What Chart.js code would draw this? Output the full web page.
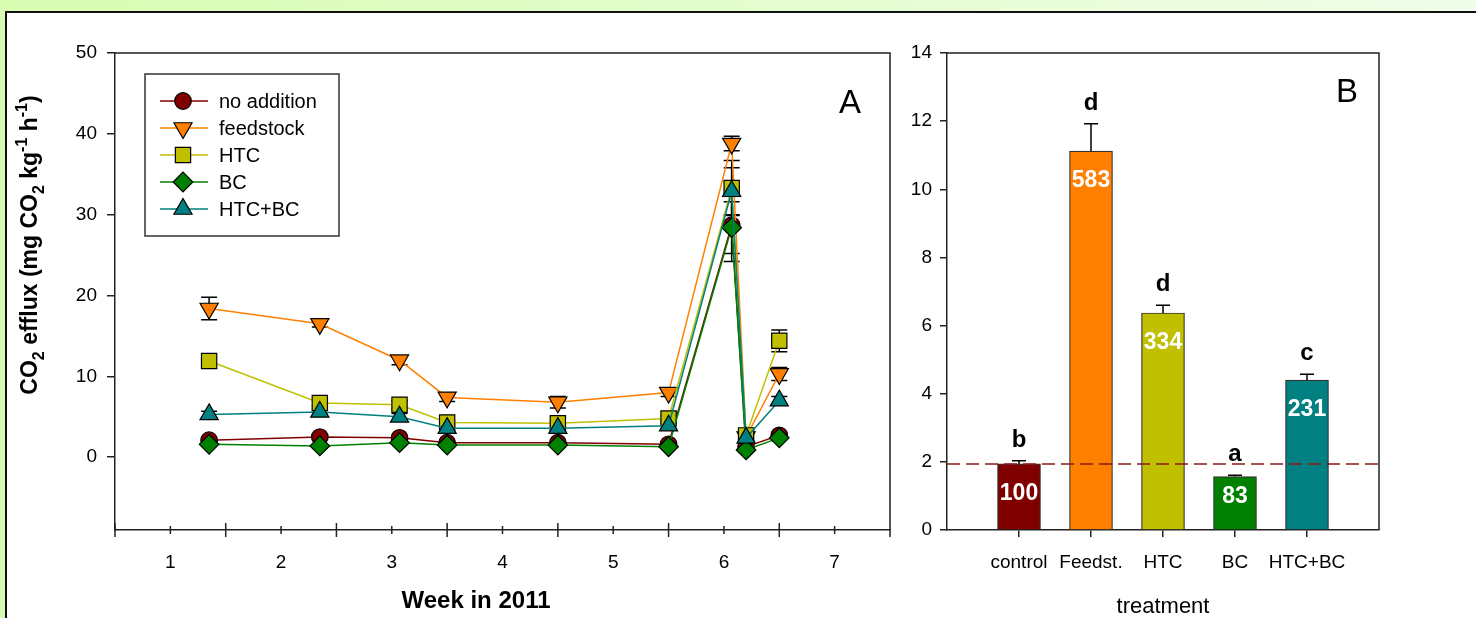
<!DOCTYPE html>
<html><head><meta charset="utf-8">
<script src="https://cdn.jsdelivr.net/npm/chart.js@4"></script>
<style>
html,body{margin:0;padding:0;width:1476px;height:618px;overflow:hidden;background:linear-gradient(90deg,#d7fcb1,#f0fdea);}
#panel{position:absolute;left:5px;top:11px;right:0;bottom:0;background:#fff;border-top:2px solid #111;border-left:2px solid #111;}
#cA{position:absolute;left:0;top:0;}
#cB{position:absolute;left:895px;top:0;}
</style></head><body>
<div id="panel"></div>
<canvas id="cA" width="895" height="618"></canvas>
<canvas id="cB" width="581" height="618"></canvas>
<script>
// ---------- Panel A data ----------
const weeks = [1.35, 2.35, 3.07, 3.5, 4.5, 5.5, 6.07, 6.2, 6.5];
const seriesNames = ['no addition', 'feedstock', 'HTC', 'BC', 'HTC+BC'];
const noAddition    = [2.1, 2.5, 2.4, 1.8, 1.8, 1.6, 28.7, 1.3, 2.7];
const noAdditionErr = [0.3, 0.2, 0.3, 0.2, 0.2, 0.2, 4.5, 0.2, 0.3];
const feedstock     = [18.4, 16.5, 12.0, 7.4, 6.8, 8.0, 38.8, 2.5, 10.3];
const feedstockErr  = [1.4, 0.4, 0.55, 0.5, 0.7, 0.5, 0.9, 0.3, 0.8];
const htc           = [11.9, 6.7, 6.5, 4.3, 4.2, 4.8, 33.3, 2.7, 14.4];
const htcErr        = [0.4, 0.4, 0.5, 0.3, 0.3, 0.3, 3.4, 0.3, 1.35];
const bc            = [1.6, 1.4, 1.8, 1.5, 1.5, 1.3, 28.4, 0.9, 2.4];
const bcErr         = [0.2, 0.2, 0.2, 0.2, 0.2, 0.2, 3.2, 0.2, 0.2];
const htcBc         = [5.3, 5.6, 5.0, 3.6, 3.6, 3.9, 32.9, 2.4, 7.0];
const htcBcErr      = [0.4, 0.3, 0.4, 0.3, 0.3, 0.3, 2.9, 0.3, 0.5];
const weekTicks   = [1, 2, 3, 4, 5, 6, 7];
const effluxTicks = [0, 10, 20, 30, 40, 50];

// ---------- Panel B data ----------
const treatments       = ['control', 'Feedst.', 'HTC', 'BC', 'HTC+BC'];
const treatmentMeans   = [1.94, 11.12, 6.37, 1.57, 4.40];
const treatmentErr     = [0.09, 0.80, 0.23, 0.04, 0.17];
const significance     = ['b', 'd', 'd', 'a', 'c'];
const relativeToControl = ['100', '583', '334', '83', '231'];
const meanTicks = [0, 2, 4, 6, 8, 10, 12, 14];

// ---------- styles ----------
const FAMILY = "'Liberation Sans', Arial, Helvetica, sans-serif";
const AX = '#222';
const seriesValues = [noAddition, feedstock, htc, bc, htcBc];
const seriesErrors = [noAdditionErr, feedstockErr, htcErr, bcErr, htcBcErr];
const seriesColors = ['#800000', '#ff8000', '#c0c000', '#008000', '#008080'];
const seriesStyles = ['circle', 'triangle', 'rect', 'rectRot', 'triangle'];
const seriesRotation = [0, 180, 0, 0, 0];
const seriesRadius = [8.3, 10.5, 10.8, 9.8, 10.5];
const barColors = ['#800000', '#ff8000', '#c0c000', '#008000', '#008080'];

Chart.defaults.font.family = FAMILY;
Chart.defaults.color = '#000';
Chart.defaults.animation = false;

function drawRich(ctx, parts, cx, cy, rot, size, small, weight) {
  ctx.save();
  ctx.translate(cx, cy); ctx.rotate(rot);
  const fMain = weight + ' ' + size + 'px ' + FAMILY;
  const fSmall = weight + ' ' + small + 'px ' + FAMILY;
  let total = 0;
  parts.forEach(p => { ctx.font = p.s ? fSmall : fMain; p.w = ctx.measureText(p.t).width; total += p.w; });
  let x = -total / 2;
  ctx.textAlign = 'left'; ctx.textBaseline = 'alphabetic'; ctx.fillStyle = '#000';
  parts.forEach(p => {
    ctx.font = p.s ? fSmall : fMain;
    const dy = p.s === 'sub' ? size * 0.3 : (p.s === 'sup' ? -size * 0.42 : 0);
    ctx.fillText(p.t, x, dy);
    x += p.w;
  });
  ctx.restore();
}

function frame(ctx, a) {
  ctx.save();
  ctx.strokeStyle = AX; ctx.lineWidth = 1.5;
  ctx.beginPath();
  ctx.moveTo(a.left, a.top); ctx.lineTo(a.right, a.top); ctx.lineTo(a.right, a.bottom);
  ctx.stroke();
  ctx.restore();
}

const panelAPlugin = {
  id: 'panelA',
  beforeDatasetsDraw(chart) {
    const ctx = chart.ctx, xs = chart.scales.x, ys = chart.scales.y;
    ctx.save();
    ctx.strokeStyle = '#000'; ctx.lineWidth = 1.5;
    seriesValues.forEach((vals, s) => {
      vals.forEach((v, i) => {
        const e = seriesErrors[s][i];
        const x = xs.getPixelForValue(weeks[i]);
        const yt = ys.getPixelForValue(v + e), yb = ys.getPixelForValue(v - e);
        ctx.beginPath();
        ctx.moveTo(x, yt); ctx.lineTo(x, yb);
        ctx.moveTo(x - 8, yt); ctx.lineTo(x + 8, yt);
        ctx.moveTo(x - 8, yb); ctx.lineTo(x + 8, yb);
        ctx.stroke();
      });
    });
    ctx.restore();
  },
  afterDraw(chart) {
    const ctx = chart.ctx, a = chart.chartArea, xs = chart.scales.x;
    frame(ctx, a);
    // x-axis crossing ticks
    ctx.save();
    ctx.strokeStyle = AX; ctx.lineWidth = 1.5;
    for (let v = xs.min; v <= xs.max + 1e-9; v += 0.5) {
      const x = xs.getPixelForValue(v);
      const half = Math.abs(v - Math.round(v)) > 0.1;
      const up = half ? 7 : 4, dn = half ? 7 : 4;
      ctx.beginPath();
      ctx.moveTo(x, a.bottom - (v >= xs.max - 1e-9 ? 0 : up));
      ctx.lineTo(x, a.bottom + dn);
      ctx.stroke();
    }
    ctx.restore();
    // legend
    ctx.save();
    ctx.strokeStyle = '#333'; ctx.lineWidth = 1.5;
    ctx.strokeRect(145, 74, 194, 162);
    seriesNames.forEach((name, i) => {
      const y = 101 + 27 * i;
      ctx.strokeStyle = seriesColors[i]; ctx.lineWidth = 1.5;
      ctx.beginPath(); ctx.moveTo(160, y); ctx.lineTo(208, y); ctx.stroke();
      ctx.fillStyle = seriesColors[i]; ctx.strokeStyle = '#000'; ctx.lineWidth = 1.2;
      Chart.helpers.drawPoint(ctx, {pointStyle: seriesStyles[i], rotation: seriesRotation[i], radius: seriesRadius[i], borderWidth: 1.2}, 183, y);
      ctx.fillStyle = '#000';
      ctx.font = '20px ' + FAMILY; ctx.textAlign = 'left'; ctx.textBaseline = 'middle';
      ctx.fillText(name, 219, y + 1);
    });
    // panel letter
    ctx.font = '33px ' + FAMILY; ctx.textAlign = 'center'; ctx.textBaseline = 'alphabetic';
    ctx.fillText('A', 850, 113);
    // x title
    ctx.font = 'bold 24px ' + FAMILY;
    ctx.fillText('Week in 2011', 476, 608);
    ctx.restore();
    // y title
    drawRich(ctx, [
      {t: 'CO'}, {t: '2', s: 'sub'}, {t: ' efflux (mg CO'}, {t: '2', s: 'sub'},
      {t: ' kg'}, {t: '-1', s: 'sup'}, {t: ' h'}, {t: '-1', s: 'sup'}, {t: ')'}
    ], 37, 245, -Math.PI / 2, 23, 16, 'bold');
  }
};

new Chart(document.getElementById('cA'), {
  type: 'line',
  data: {
    datasets: seriesNames.map((name, s) => ({
      label: name,
      data: seriesValues[s].map((v, i) => ({x: weeks[i], y: v})),
      borderColor: seriesColors[s],
      backgroundColor: seriesColors[s],
      borderWidth: 1.5,
      tension: 0,
      pointStyle: seriesStyles[s],
      rotation: seriesRotation[s],
      pointRadius: seriesRadius[s],
      pointBackgroundColor: seriesColors[s],
      pointBorderColor: '#000',
      pointBorderWidth: 1.2,
      order: -s
    }))
  },
  options: {
    responsive: false,
    devicePixelRatio: 1,
    layout: {autoPadding: false, padding: {top: 53, right: 5, left: 0, bottom: 0}},
    plugins: {legend: {display: false}, tooltip: {enabled: false}},
    scales: {
      x: {
        type: 'linear', min: 0.5, max: 7.5,
        afterBuildTicks: s => { s.ticks = weekTicks.map(v => ({value: v})); },
        afterFit: s => { s.height = 88; },
        ticks: {font: {size: 19}, color: '#000', padding: 14, maxRotation: 0, autoSkip: false},
        grid: {drawOnChartArea: false, drawTicks: true, tickLength: 7, color: 'rgba(0,0,0,0)'},
        border: {color: AX, width: 1.5}
      },
      y: {
        type: 'linear', min: -9, max: 50,
        afterBuildTicks: s => { s.ticks = effluxTicks.map(v => ({value: v})); },
        afterFit: s => { s.width = 115; },
        ticks: {font: {size: 19}, color: '#000', padding: 10},
        grid: {drawOnChartArea: false, drawTicks: true, tickLength: 8, color: AX, lineWidth: 1.5},
        border: {color: AX, width: 1.5}
      }
    }
  },
  plugins: [panelAPlugin]
});

// ---------- Panel B ----------
const panelBPlugin = {
  id: 'panelB',
  afterDatasetsDraw(chart) {
    const ctx = chart.ctx, a = chart.chartArea, ys = chart.scales.y;
    const meta = chart.getDatasetMeta(0);
    ctx.save();
    // error bars
    ctx.strokeStyle = '#000'; ctx.lineWidth = 1.5;
    treatmentMeans.forEach((m, i) => {
      const el = meta.data[i + 1];
      const yTop = ys.getPixelForValue(m), yErr = ys.getPixelForValue(m + treatmentErr[i]);
      ctx.beginPath();
      ctx.moveTo(el.x, yTop); ctx.lineTo(el.x, yErr);
      ctx.moveTo(el.x - 7, yErr); ctx.lineTo(el.x + 7, yErr);
      ctx.stroke();
    });
    // control reference line
    const yc = ys.getPixelForValue(treatmentMeans[0]);
    ctx.strokeStyle = '#8b1a1a'; ctx.lineWidth = 1.5; ctx.setLineDash([13, 6]);
    ctx.beginPath(); ctx.moveTo(a.left, yc); ctx.lineTo(a.right, yc); ctx.stroke();
    ctx.setLineDash([]);
    // letters and percentages
    ctx.textAlign = 'center';
    treatmentMeans.forEach((m, i) => {
      const el = meta.data[i + 1];
      const yErr = ys.getPixelForValue(m + treatmentErr[i]);
      ctx.fillStyle = '#000'; ctx.font = 'bold 24px ' + FAMILY; ctx.textBaseline = 'alphabetic';
      ctx.fillText(significance[i], el.x, yErr - 14);
      const yTop = ys.getPixelForValue(m);
      ctx.fillStyle = '#fff'; ctx.font = 'bold 23px ' + FAMILY; ctx.textBaseline = 'middle';
      ctx.fillText(relativeToControl[i], el.x, Math.min(yTop + 30, a.bottom - 33));
    });
    ctx.restore();
  },
  afterDraw(chart) {
    const ctx = chart.ctx, a = chart.chartArea;
    frame(ctx, a);
    ctx.save();
    ctx.fillStyle = '#000'; ctx.textAlign = 'center'; ctx.textBaseline = 'alphabetic';
    ctx.font = '33px ' + FAMILY;
    ctx.fillText('B', 1347 - 895, 102);
    ctx.font = '22px ' + FAMILY;
    ctx.fillText('treatment', (a.left + a.right) / 2, 613);
    ctx.restore();
  }
};

new Chart(document.getElementById('cB'), {
  type: 'bar',
  data: {
    labels: [''].concat(treatments, ['']),
    datasets: [{
      data: [null].concat(treatmentMeans, [null]),
      backgroundColor: [null].concat(barColors, [null]),
      borderColor: '#333',
      borderWidth: 1.2,
      barThickness: 43
    }]
  },
  options: {
    responsive: false,
    devicePixelRatio: 1,
    layout: {autoPadding: false, padding: {top: 53, right: 97, left: 0, bottom: 0}},
    plugins: {legend: {display: false}, tooltip: {enabled: false}},
    scales: {
      x: {
        type: 'category', offset: false,
        afterFit: s => { s.height = 88; },
        ticks: {font: {size: 19}, color: '#000', padding: 14, maxRotation: 0, autoSkip: false},
        grid: {offset: false, drawOnChartArea: false, drawTicks: true, tickLength: 7, lineWidth: 1.5,
               color: c => (c.index >= 1 && c.index <= treatments.length) ? AX : 'rgba(0,0,0,0)'},
        border: {color: AX, width: 1.5}
      },
      y: {
        type: 'linear', min: 0, max: 14,
        afterBuildTicks: s => { s.ticks = meanTicks.map(v => ({value: v})); },
        afterFit: s => { s.width = 52; },
        ticks: {font: {size: 19}, color: '#000', padding: 8},
        grid: {drawOnChartArea: false, drawTicks: true, tickLength: 7, color: AX, lineWidth: 1.5},
        border: {color: AX, width: 1.5}
      }
    }
  },
  plugins: [panelBPlugin]
});
</script>
</body></html>
